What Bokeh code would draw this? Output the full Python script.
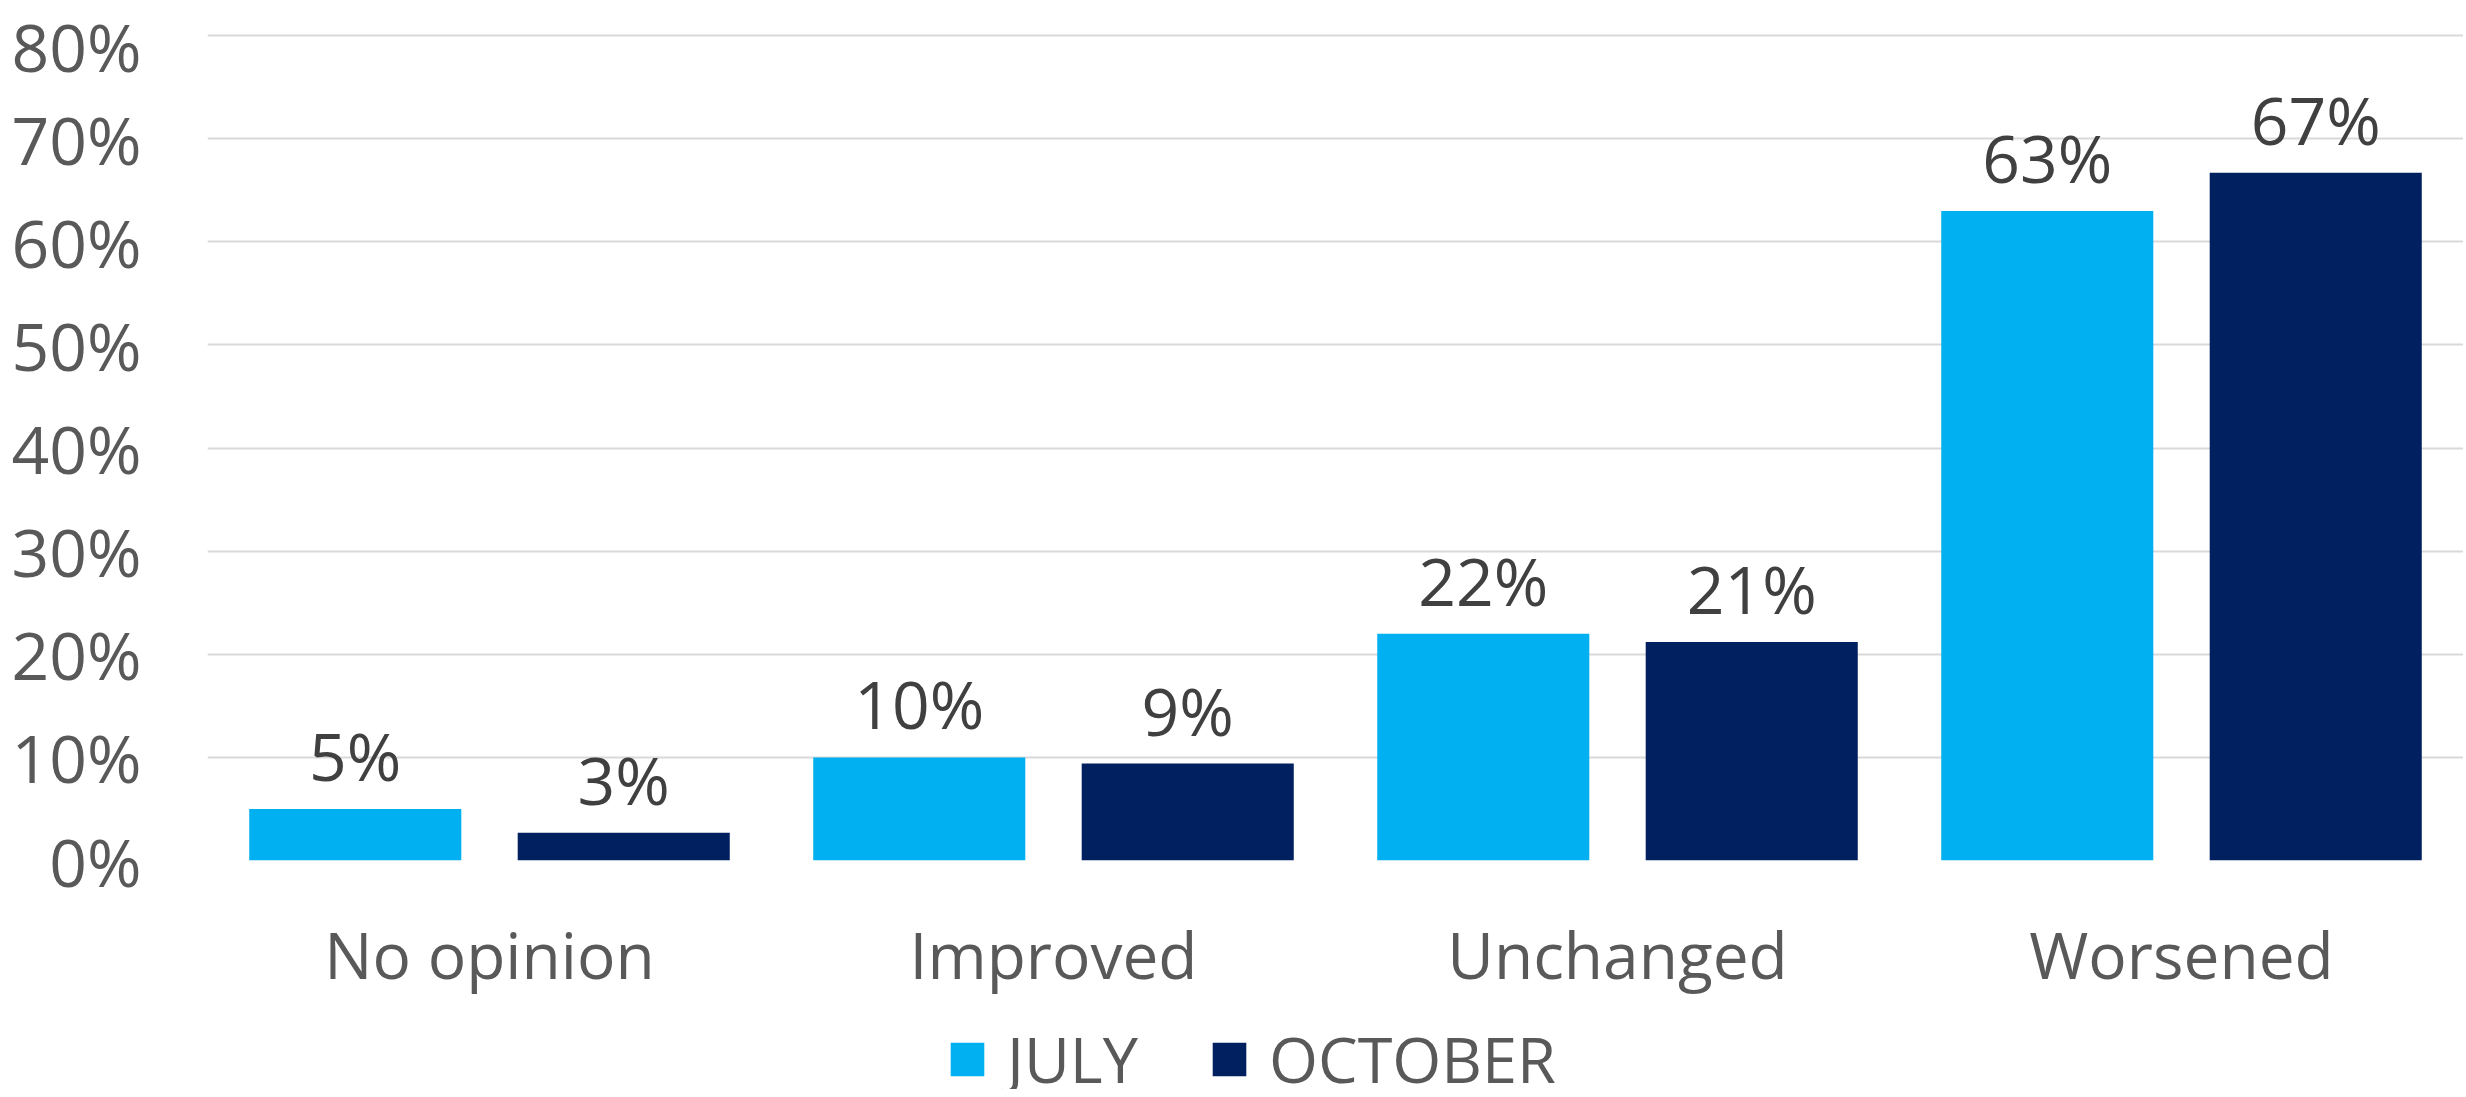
from bokeh.plotting import figure
from bokeh.layouts import column
from bokeh.models import (ColumnDataSource, FactorRange, Range1d, LabelSet, Legend, LegendItem,
                          PrintfTickFormatter, FixedTicker)
from bokeh.transform import dodge
from bokeh.core.properties import value
from bokeh.embed import file_html
from bokeh.resources import INLINE

categories = ["No opinion", "Improved", "Unchanged", "Worsened"]
july = [5.0, 10.0, 22.0, 63.0]
october = [2.7, 9.4, 21.2, 66.7]
july_labels = ["5%", "10%", "22%", "63%"]
october_labels = ["3%", "9%", "21%", "67%"]
y_ticks = [0, 10, 20, 30, 40, 50, 60, 70, 80]
series_names = ["JULY", "OCTOBER"]
series_cols = ["july", "october"]
series_colors = ["#00B0F0", "#002060"]

FONT = "Open Sans"
src = ColumnDataSource(dict(cat=categories, july=july, october=october,
                            jl=july_labels, ol=october_labels))

p = figure(x_range=FactorRange(*categories, range_padding=0), y_range=Range1d(0, 80.5),
           width=2463, height=1000, output_backend="svg", toolbar_location=None,
           min_border_left=207, min_border_right=0, min_border_top=30, min_border_bottom=138)
p.outline_line_color = None
p.background_fill_color = "white"
p.border_fill_color = "white"

for xoff, col, color in zip([-0.238, 0.238], series_cols, series_colors):
    p.vbar(x=dodge("cat", xoff, range=p.x_range), top=col, width=0.376, source=src,
           fill_color=color, line_color=None)

for xoff, col, lab in [(-0.238, "july", "jl"), (0.238, "october", "ol")]:
    ls = LabelSet(x=dodge("cat", xoff, range=p.x_range), y=col, text=lab, source=src,
                  text_align="center", text_baseline="alphabetic", y_offset=28,
                  text_font=value(FONT), text_font_size="66px", text_color="#404040")
    p.add_layout(ls)

p.yaxis.ticker = FixedTicker(ticks=y_ticks)
p.yaxis.formatter = PrintfTickFormatter(format="%d%%")
p.yaxis.axis_line_color = None
p.yaxis.major_tick_line_color = None
p.yaxis.minor_tick_line_color = None
p.yaxis.major_tick_out = 0
p.yaxis.major_tick_in = 0
p.yaxis.major_label_standoff = 66
p.yaxis.major_label_text_font = FONT
p.yaxis.major_label_text_font_size = "66px"
p.yaxis.major_label_text_color = "#595959"

p.xaxis.axis_line_color = None
p.xaxis.major_tick_line_color = None
p.xaxis.major_tick_out = 0
p.xaxis.major_tick_in = 0
p.xaxis.major_label_standoff = 50
p.xaxis.major_label_text_font = FONT
p.xaxis.major_label_text_font_size = "64px"
p.xaxis.major_label_text_color = "#595959"

p.xgrid.grid_line_color = None
p.ygrid.grid_line_color = "#d9d9d9"
p.ygrid.grid_line_width = 2

# legend strip below the chart (its bars lie outside its visible y range)
p2 = figure(x_range=FactorRange(*categories, range_padding=0), y_range=Range1d(1000, 1001),
            width=2463, height=89, output_backend="svg", toolbar_location=None,
            x_axis_location=None, y_axis_location=None,
            min_border_left=207, min_border_right=0, min_border_top=0, min_border_bottom=0)
p2.outline_line_color = None
p2.grid.visible = False
items = []
for xoff, col, name, color in zip([-0.238, 0.238], series_cols, series_names, series_colors):
    r = p2.vbar(x=dodge("cat", xoff, range=p2.x_range), top=col, width=0.376, source=src,
                fill_color=color, line_color=None)
    items.append(LegendItem(label=name, renderers=[r], index=0))
legend = Legend(items=items, orientation="horizontal", location=(739, -12),
                glyph_width=42, glyph_height=42, label_standoff=19, spacing=70,
                padding=0, margin=0, border_line_color=None, background_fill_alpha=0,
                label_text_font=FONT, label_text_font_size="63px", label_text_color="#595959")
p2.add_layout(legend, "center")

layout = column(p, p2, spacing=0)
open("out.html", "w").write(file_html(layout, INLINE))
